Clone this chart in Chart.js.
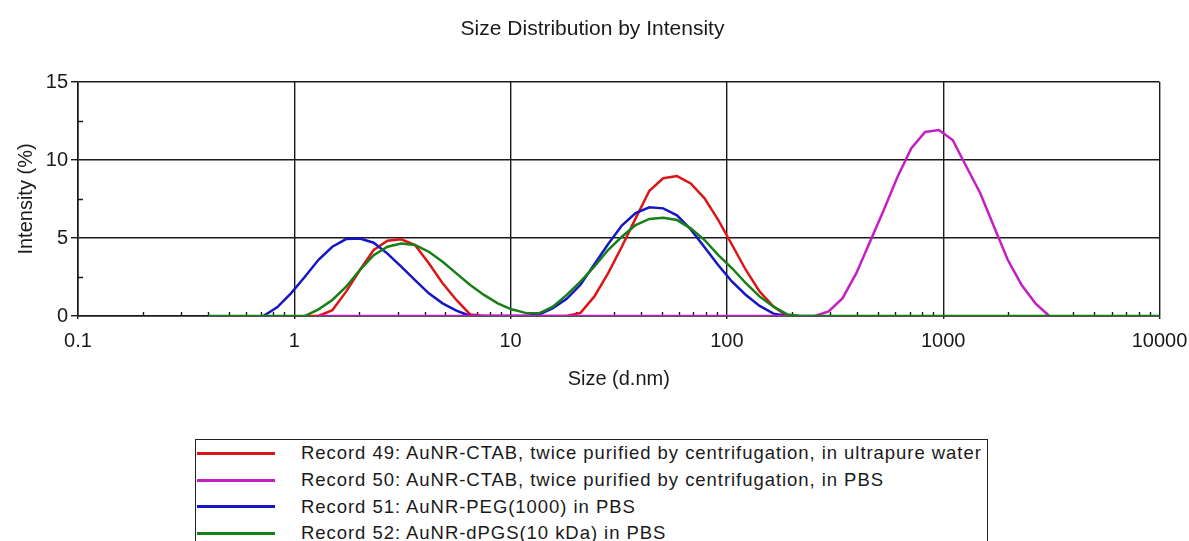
<!DOCTYPE html>
<html>
<head>
<meta charset="utf-8">
<title>Size Distribution by Intensity</title>
<script src="https://cdn.jsdelivr.net/npm/chart.js@4.4.1/dist/chart.umd.min.js"></script>
<style>
  body { margin: 0; background: #fff; }
  #wrap { position: relative; width: 1189px; height: 541px; overflow: hidden; font-family: 'Liberation Sans', Arial, sans-serif; }
  #chart { position: absolute; left: 0; top: 0; }
  #legend { position: absolute; left: 195px; top: 439px; width: 793px; height: 130px; box-sizing: border-box; border: 1.5px solid #222; }
  .row { display: flex; align-items: center; height: 26.7px; font-size: 18.5px; letter-spacing: 0.95px; color: #1a1a1a; white-space: nowrap; }
  .swatch { width: 78px; height: 3px; margin-left: 1px; margin-right: 26px; flex: none; }
</style>
</head>
<body>
<div id="wrap">
  <canvas id="chart" width="1189" height="400"></canvas>
  <div id="legend"></div>
</div>
<script>
const chartTitle = 'Size Distribution by Intensity';
const xTitle = 'Size (d.nm)';
const yTitle = 'Intensity (%)';

const xTickValues = [0.1, 1, 10, 100, 1000, 10000];
const xTickLabels = ['0.1', '1', '10', '100', '1000', '10000'];
const yTickValues = [0, 5, 10, 15];

// size classes (d.nm)
const sizes = [
  0.4, 0.4632, 0.5365, 0.6213, 0.7195, 0.8332, 0.9649, 1.117, 1.294, 1.499,
  1.736, 2.010, 2.328, 2.696, 3.122, 3.615, 4.187, 4.849, 5.615, 6.503,
  7.531, 8.721, 10.10, 11.70, 13.54, 15.69, 18.17, 21.04, 24.36, 28.21,
  32.67, 37.84, 43.82, 50.75, 58.77, 68.06, 78.82, 91.28, 105.7, 122.4,
  141.8, 164.2, 190.1, 220.2, 255.0, 295.3, 342.0, 396.1, 458.7, 531.2,
  615.1, 712.4, 825.0, 955.4, 1106, 1281, 1484, 1718, 1990, 2305,
  2669, 3091, 3580, 4145, 4801, 5560, 6439, 7456, 8635, 10000
];

// intensity (%) per size class
const record49 = [
  null, null, null, null, null, null, null, 0, 0, 0.37,
  1.56, 2.95, 4.23, 4.83, 4.92, 4.55, 3.38, 2.10, 1.03, 0.10,
  0, 0, 0, 0, 0, 0, 0, 0.20, 1.24, 2.73,
  4.44, 6.26, 8.03, 8.83, 8.97, 8.50, 7.54, 6.15, 4.55, 2.95,
  1.56, 0.60, 0, null, null, null, null, null, null, null,
  null, null, null, null, null, null, null, null, null, null,
  null, null, null, null, null, null, null, null, null, null
];
const record50 = [
  null, null, null, null, null, null, null, null, 0, 0,
  0, 0, 0, 0, 0, 0, 0, 0, 0, 0,
  0, 0, 0, 0, 0, 0, 0, 0, 0, 0,
  0, 0, 0, 0, 0, 0, 0, 0, 0, 0,
  0, 0, 0, 0, 0, 0.30, 1.13, 2.73, 4.76, 6.80,
  8.93, 10.75, 11.80, 11.92, 11.28, 9.57, 7.87, 5.72, 3.59, 1.99,
  0.81, 0, null, null, null, null, null, null, null, null
];
const record51 = [
  null, null, null, null, 0, 0.56, 1.45, 2.50, 3.60, 4.44,
  4.93, 4.97, 4.70, 4.00, 3.16, 2.30, 1.45, 0.81, 0.34, 0,
  0, 0, 0, 0, 0.10, 0.50, 1.10, 2.00, 3.30, 4.60,
  5.80, 6.60, 6.97, 6.90, 6.45, 5.55, 4.40, 3.25, 2.20, 1.35,
  0.65, 0.15, 0, null, null, null, null, null, null, null,
  null, null, null, null, null, null, null, null, null, null,
  null, null, null, null, null, null, null, null, null, null
];
const record52 = [
  0, 0, 0, 0, 0, 0, 0, 0, 0.43, 1.03,
  1.88, 2.95, 3.90, 4.44, 4.65, 4.55, 4.12, 3.48, 2.73, 1.99,
  1.35, 0.81, 0.43, 0.20, 0.17, 0.60, 1.35, 2.20, 3.16, 4.23,
  5.08, 5.83, 6.22, 6.30, 6.15, 5.62, 4.87, 3.90, 3.06, 2.10,
  1.24, 0.60, 0.10, 0, 0, 0, 0, 0, 0, 0,
  0, 0, 0, 0, 0, 0, 0, 0, 0, 0,
  0, 0, 0, 0, 0, 0, 0, 0, 0, 0
];

const seriesNames = [
  'Record 49: AuNR-CTAB, twice purified by centrifugation, in ultrapure water',
  'Record 50: AuNR-CTAB, twice purified by centrifugation, in PBS',
  'Record 51: AuNR-PEG(1000) in PBS',
  'Record 52: AuNR-dPGS(10 kDa) in PBS'
];
const seriesValues = [record49, record50, record51, record52];
const seriesColors = ['#dc1616', '#c41ec4', '#1616c4', '#168016'];
const drawOrder = [3, 1, 2, 0]; // green on top, then magenta

const ink = '#1a1a1a';
Chart.defaults.font.family = "'Liberation Sans', Arial, sans-serif";
Chart.defaults.color = ink;

// small inner tick marks like the original instrument plot
const minorTicks = {
  id: 'minorTicks',
  beforeDatasetsDraw(chart) {
    const { ctx, chartArea, scales } = chart;
    ctx.save();
    ctx.strokeStyle = ink;
    ctx.lineWidth = 1.4;
    ctx.beginPath();
    for (let d = 0.1; d < 10000; d *= 10) {
      for (let m = 2; m <= 9; m++) {
        const px = Math.round(scales.x.getPixelForValue(d * m)) + 0.5;
        ctx.moveTo(px, chartArea.bottom - 4);
        ctx.lineTo(px, chartArea.bottom);
      }
    }
    [2.5, 7.5, 12.5].forEach(v => {
      const py = Math.round(scales.y.getPixelForValue(v)) + 0.5;
      ctx.moveTo(chartArea.left, py);
      ctx.lineTo(chartArea.left + 5, py);
    });
    ctx.stroke();
    ctx.restore();
  }
};

const datasets = seriesNames.map((name, i) => ({
  label: name,
  data: sizes.map((s, k) => ({ x: s, y: seriesValues[i][k] })),
  borderColor: seriesColors[i],
  backgroundColor: seriesColors[i],
  borderWidth: 2.5,
  pointRadius: 0,
  tension: 0,
  fill: false,
  order: drawOrder[i]
}));

new Chart(document.getElementById('chart'), {
  type: 'line',
  data: { datasets },
  options: {
    responsive: false,
    animation: false,
    layout: { padding: { left: 25.5, right: 29.5, top: 0, bottom: 0 } },
    plugins: {
      legend: { display: false },
      tooltip: { enabled: false },
      title: {
        display: true,
        text: chartTitle,
        color: ink,
        font: { size: 21, weight: 'normal' },
        padding: { top: 17, bottom: 39.8 }
      }
    },
    scales: {
      x: {
        type: 'logarithmic',
        min: 0.1,
        max: 10000,
        afterBuildTicks: s => { s.ticks = xTickValues.map(v => ({ value: v })); },
        afterFit: s => { s.height = 84; s.paddingLeft = 0; s.paddingRight = 0; },
        ticks: {
          callback: v => xTickLabels[xTickValues.indexOf(v)],
          font: { size: 20 },
          color: ink,
          padding: 10,
          maxRotation: 0,
          autoSkip: false
        },
        grid: { color: ink, lineWidth: 1.4, tickLength: 3 },
        border: { color: ink, width: 1.6 },
        title: { display: true, text: xTitle, color: ink, font: { size: 20 }, padding: { top: 0, bottom: 9 } }
      },
      y: {
        min: 0,
        max: 15,
        afterBuildTicks: s => { s.ticks = yTickValues.map(v => ({ value: v })); },
        afterFit: s => { s.width = 52.5; },
        ticks: { font: { size: 20 }, color: ink, padding: 3 },
        grid: { color: ink, lineWidth: 1.4, tickLength: 7 },
        border: { color: ink, width: 1.6 },
        title: { display: true, text: yTitle, color: ink, font: { size: 20 }, padding: { top: -11.5, bottom: 0 } }
      }
    }
  },
  plugins: [minorTicks]
});

// boxed legend, one record per row
const legend = document.getElementById('legend');
seriesNames.forEach((name, i) => {
  const row = document.createElement('div');
  row.className = 'row';
  const sw = document.createElement('span');
  sw.className = 'swatch';
  sw.style.background = seriesColors[i];
  const txt = document.createElement('span');
  txt.textContent = name;
  row.appendChild(sw);
  row.appendChild(txt);
  legend.appendChild(row);
});
</script>
</body>
</html>
